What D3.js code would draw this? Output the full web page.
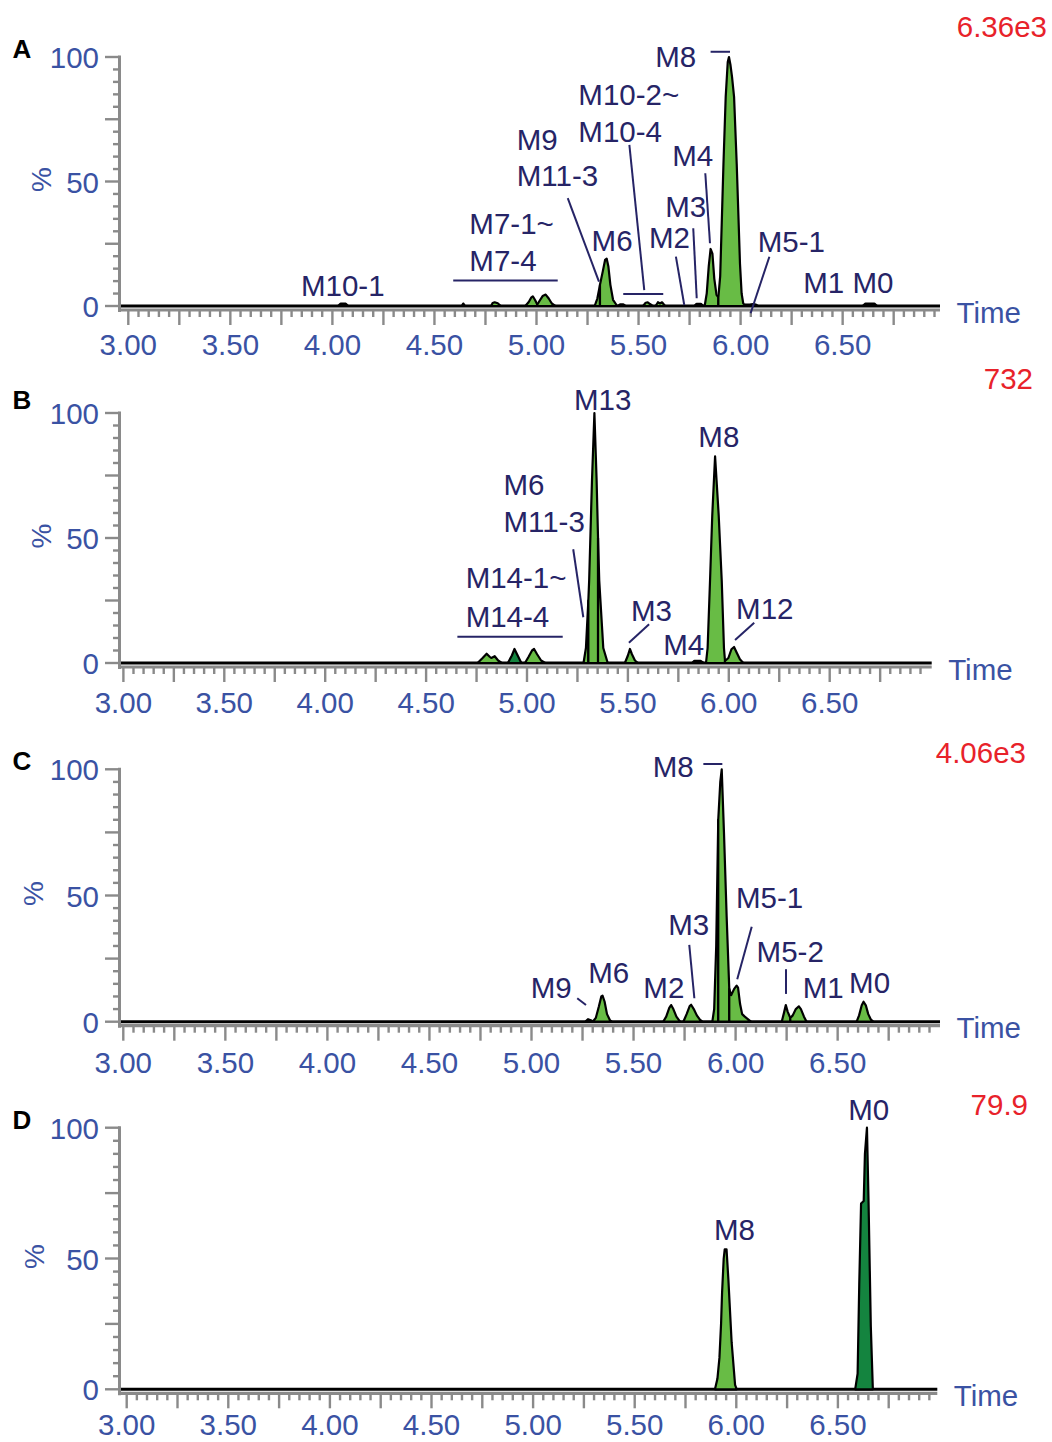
<!DOCTYPE html>
<meta charset="utf-8">
<style>
body { margin: 0; background: #fff; }
text { font-family: "Liberation Sans", Arial, sans-serif; }
</style>
<svg width="1052" height="1442"></svg>
<script src="https://d3js.org/d3.v7.min.js"></script>
<script>
// ---- data (time in min, intensity in %) ----
var xTickLabels = ["3.00", "3.50", "4.00", "4.50", "5.00", "5.50", "6.00", "6.50"];
var yTickLabels = [0, 50, 100];
var panelLetters = ["A", "B", "C", "D"];
var scaleLabels = ["6.36e3", "732", "4.06e3", "79.9"];

// integrated peaks: shade + outline points
var peaksA = [
  {shade: "light", pts: [[4.778,0],[4.785,1.2],[4.795,1.5],[4.81,1.1],[4.825,0]]},
  {shade: "light", pts: [[4.945,0],[4.962,1.6],[4.975,3.5],[4.982,3.9],[4.993,2.4],[5.004,0.6]]},
  {shade: "light", pts: [[5.004,0.6],[5.016,2.2],[5.03,4.0],[5.045,4.6],[5.06,3.0],[5.075,1.0],[5.092,0]]},
  {shade: "light", pts: [[5.285,0],[5.298,3],[5.311,8.5]]},
  {shade: "light", pts: [[5.311,8.5],[5.325,14],[5.336,18.5],[5.344,19],[5.352,16],[5.362,8.5],[5.375,2.5],[5.392,0.4]]},
  {shade: "light", pts: [[5.522,0],[5.535,1.3],[5.545,1.5],[5.556,0.8],[5.566,0.2]]},
  {shade: "light", pts: [[5.585,0.2],[5.595,1.5],[5.605,1.0],[5.615,1.5],[5.63,0]]},
  {shade: "light", pts: [[5.824,0],[5.834,5],[5.844,16],[5.853,22.9],[5.862,21],[5.871,11],[5.882,4.5],[5.891,3.5]]},
  {shade: "light", pts: [[5.891,3.5],[5.90,12],[5.91,40],[5.916,57],[5.927,84],[5.937,98],[5.943,100],[5.95,97],[5.958,92],[5.968,84],[5.981,57],[5.997,17],[6.005,5],[6.013,1],[6.02,0.5]]}
];
var blipsA = [
  [[4.03,0],[4.04,0.9],[4.065,0.9],[4.075,0]],
  [[4.635,0],[4.641,0.9],[4.648,0]],
  [[5.40,0],[5.41,0.6],[5.425,0.6],[5.435,0]],
  [[5.775,0],[5.785,0.8],[5.805,0.8],[5.816,0]],
  [[6.02,0.5],[6.045,0.5],[6.06,0.7],[6.075,0.5],[6.085,0]],
  [[6.60,0],[6.612,0.9],[6.655,0.9],[6.667,0]]
];
var labelsA = [
  {text: "M10-1", t: 3.846, p: 4.0},
  {text: "M7-1~", t: 4.671, p: 28.9},
  {text: "M7-4", t: 4.671, p: 14.2},
  {text: "M9", t: 4.903, p: 62.7},
  {text: "M11-3", t: 4.903, p: 48.3},
  {text: "M6", t: 5.270, p: 22.2},
  {text: "M10-2~", t: 5.205, p: 80.7},
  {text: "M10-4", t: 5.205, p: 66.0},
  {text: "M4", t: 5.665, p: 56.2},
  {text: "M3", t: 5.631, p: 35.6},
  {text: "M2", t: 5.551, p: 23.2},
  {text: "M8", t: 5.582, p: 96.1},
  {text: "M5-1", t: 6.084, p: 21.8},
  {text: "M1 M0", t: 6.307, p: 5.1}
];
var leadersA = [
  [[4.592,10.2],[5.104,10.2]],
  [[5.153,43.3],[5.306,9.8]],
  [[5.455,64.7],[5.528,6.4]],
  [[5.425,4.8],[5.621,4.8]],
  [[5.827,53.3],[5.850,25.2]],
  [[5.768,31.2],[5.785,3.1]],
  [[5.683,19.8],[5.724,0.4]],
  [[5.853,102.1],[5.948,102.1]],
  [[6.141,19.8],[6.049,-2.9]]
];

var peaksB = [
  {shade: "light", pts: [[4.755,0],[4.78,2],[4.80,3.7],[4.815,2.5],[4.823,2],[4.84,2.7],[4.857,1],[4.875,0]]},
  {shade: "dark", pts: [[4.905,0],[4.925,3],[4.938,5.6],[4.952,3.3],[4.972,0]]},
  {shade: "light", pts: [[4.99,0],[5.008,2.5],[5.025,5],[5.035,5.6],[5.05,3.5],[5.07,1],[5.09,0]]},
  {shade: "light", pts: [[5.28,0],[5.292,6],[5.304,25]]},
  {shade: "light", pts: [[5.304,25],[5.308,33],[5.322,73],[5.334,100],[5.345,73],[5.352,50]]},
  {shade: "light", pts: [[5.352,50],[5.358,33],[5.378,6],[5.40,0]]},
  {shade: "light", pts: [[5.485,0],[5.50,3],[5.51,5.6],[5.52,3.5],[5.535,1],[5.55,0]]},
  {shade: "light", pts: [[5.887,0],[5.895,6],[5.907,33],[5.918,59],[5.932,82.7],[5.95,59],[5.965,33],[5.976,6],[5.981,1]]},
  {shade: "light", pts: [[5.981,0.8],[5.998,2],[6.013,5.5],[6.026,6.4],[6.04,4],[6.055,1.5],[6.072,0]]}
];
var blipsB = [
  [[5.82,0],[5.83,0.8],[5.86,0.8],[5.875,0]]
];
var labelsB = [
  {text: "M13", t: 5.233, p: 101.2},
  {text: "M8", t: 5.849, p: 86.5},
  {text: "M6", t: 4.883, p: 67.2},
  {text: "M11-3", t: 4.883, p: 52.5},
  {text: "M14-1~", t: 4.696, p: 29.9},
  {text: "M14-4", t: 4.696, p: 14.5},
  {text: "M3", t: 5.515, p: 16.9},
  {text: "M4", t: 5.675, p: 3.2},
  {text: "M12", t: 6.036, p: 17.5}
];
var leadersB = [
  [[5.229,45.5],[5.279,18.3]],
  [[4.655,10.5],[5.177,10.5]],
  [[5.605,15.5],[5.505,8.1]],
  [[6.126,16.1],[6.031,9.2]]
];

var peaksC = [
  {shade: "light", pts: [[5.30,0],[5.315,1.5],[5.33,6],[5.342,10],[5.348,10.3],[5.358,8],[5.37,3],[5.385,0.5],[5.393,0]]},
  {shade: "light", pts: [[5.645,0],[5.66,2],[5.675,5.5],[5.684,6.6],[5.695,5],[5.71,2],[5.728,0]]},
  {shade: "light", pts: [[5.744,0],[5.76,3],[5.775,6.2],[5.782,6.7],[5.795,5],[5.81,2.5],[5.825,0.8],[5.837,0]]},
  {shade: "light", pts: [[5.886,0],[5.895,5],[5.905,30],[5.915,80]]},
  {shade: "light", pts: [[5.915,80],[5.925,95],[5.932,100],[5.943,75],[5.956,42],[5.969,13]]},
  {shade: "light", pts: [[5.969,13],[5.978,10.5],[5.993,13],[6.005,14.3],[6.012,13.5],[6.022,7],[6.032,3],[6.045,2],[6.06,1],[6.075,0]]},
  {shade: "light", pts: [[6.226,0],[6.237,3.5],[6.246,6.6],[6.255,4],[6.268,1.5]]},
  {shade: "light", pts: [[6.268,1.5],[6.28,2.5],[6.295,5],[6.31,6.1],[6.32,5],[6.335,2],[6.348,0]]},
  {shade: "light", pts: [[6.593,0],[6.605,2.5],[6.618,6.5],[6.627,7.9],[6.638,6.5],[6.65,3],[6.662,1],[6.675,0]]}
];
var blipsC = [
  [[5.265,0],[5.277,0.9],[5.29,0.5],[5.30,0]]
];
var labelsC = [
  {text: "M8", t: 5.594, p: 96.8},
  {text: "M5-1", t: 6.002, p: 44.9},
  {text: "M3", t: 5.670, p: 34.4},
  {text: "M5-2", t: 6.103, p: 23.8},
  {text: "M2", t: 5.548, p: 9.5},
  {text: "M6", t: 5.278, p: 15.5},
  {text: "M9", t: 4.996, p: 9.3},
  {text: "M1", t: 6.329, p: 9.3},
  {text: "M0", t: 6.556, p: 11.3}
];
var leadersC = [
  [[5.842,102.1],[5.935,102.1]],
  [[6.079,37.6],[6.008,16.8]],
  [[5.773,30.4],[5.798,9.3]],
  [[6.247,20.8],[6.247,11.0]],
  [[5.224,9.3],[5.267,6.6]]
];

var peaksD = [
  {shade: "light", pts: [[5.895,0],[5.907,4],[5.917,12],[5.925,25],[5.93,37],[5.938,50],[5.943,53.5],[5.952,53.5],[5.961,42],[5.977,18],[5.994,1.7],[6.002,0]]},
  {shade: "dark", pts: [[6.585,0],[6.597,6],[6.605,40],[6.614,71],[6.627,72],[6.633,90],[6.643,100],[6.651,71],[6.662,24],[6.672,0]]}
];
var blipsD = [];
var labelsD = [
  {text: "M8", t: 5.890, p: 57.1},
  {text: "M0", t: 6.551, p: 102.9}
];
var leadersD = [];

// ---- layout (pixels) ----
var layouts = [
  {x3: 128.3, ppm: 204.1, axisEnd: 940,   y0: 306,    y100: 57,    tickDy: 49, pctX: 41,   scaleX: 1047, scaleY: 37,   letterY: 58},
  {x3: 123.4, ppm: 201.8, axisEnd: 931.7, y0: 663,    y100: 413,   tickDy: 50, pctX: 41,   scaleX: 1033, scaleY: 389,  letterY: 409},
  {x3: 123.3, ppm: 204.1, axisEnd: 940,   y0: 1021.7, y100: 769.3, tickDy: 51, pctX: 33,   scaleX: 1026, scaleY: 763,  letterY: 770},
  {x3: 126.7, ppm: 203.2, axisEnd: 937.3, y0: 1389.3, y100: 1127.7, tickDy: 46, pctX: 33.5, scaleX: 1028, scaleY: 1115, letterY: 1129}
];
var panelPeaks = [peaksA, peaksB, peaksC, peaksD];
var panelBlips = [blipsA, blipsB, blipsC, blipsD];
var panelLabels = [labelsA, labelsB, labelsC, labelsD];
var panelLeaders = [leadersA, leadersB, leadersC, leadersD];

var axisX = 119.5;
var blue = "#3a52a3", navy = "#262466", grey = "#8a8a8a";
var shadeColour = {light: "#68bc45", dark: "#14843f"};

var svg = d3.select("svg");

layouts.forEach(function(L, i) {
  var x = d3.scaleLinear().domain([3, 7]).range([L.x3, L.x3 + 4 * L.ppm]);
  var y = d3.scaleLinear().domain([0, 100]).range([L.y0, L.y100]);
  var g = svg.append("g");

  // y axis line + ticks
  g.append("line")
    .attr("x1", axisX).attr("x2", axisX)
    .attr("y1", L.y100 - 1.5).attr("y2", L.y0 + 6)
    .attr("stroke", grey).attr("stroke-width", 3);
  g.selectAll(".yt").data(d3.range(0, 101, 5)).enter().append("line")
    .attr("x1", function(d) { return d % 25 === 0 ? 105 : 113; })
    .attr("x2", axisX)
    .attr("y1", function(d) { return y(d); })
    .attr("y2", function(d) { return y(d); })
    .attr("stroke", grey).attr("stroke-width", 2.4);
  g.selectAll(".yl").data(yTickLabels).enter().append("text")
    .attr("x", 99).attr("y", function(d) { return y(d) + 11; })
    .attr("text-anchor", "end").attr("font-size", 29.5).attr("fill", blue)
    .text(function(d) { return d; });

  // x axis line + ticks
  g.append("line")
    .attr("x1", axisX - 1.5).attr("x2", L.axisEnd)
    .attr("y1", L.y0 + 4).attr("y2", L.y0 + 4)
    .attr("stroke", grey).attr("stroke-width", 3.2);
  var tMax = x.invert(L.axisEnd - 2);
  var minor = d3.range(300, Math.floor(tMax * 100) + 1, 5).map(function(v) { return v / 100; });
  g.selectAll(".xt").data(minor).enter().append("line")
    .attr("x1", function(d) { return x(d); })
    .attr("x2", function(d) { return x(d); })
    .attr("y1", L.y0 + 5)
    .attr("y2", function(d) { return Math.round(d * 100) % 25 === 0 ? L.y0 + 19 : L.y0 + 11; })
    .attr("stroke", grey).attr("stroke-width", 2.4);
  g.selectAll(".xl").data(xTickLabels).enter().append("text")
    .attr("x", function(d) { return x(+d); })
    .attr("y", L.y0 + L.tickDy)
    .attr("text-anchor", "middle").attr("font-size", 29.5).attr("fill", blue)
    .text(function(d) { return d; });

  // axis titles
  g.append("text")
    .attr("x", L.axisEnd + 16.5).attr("y", L.y0 + 16.5)
    .attr("font-size", 29.5).attr("fill", blue).text("Time");
  g.append("text")
    .attr("transform", "translate(" + (L.pctX + 10) + "," + ((L.y0 + L.y100) / 2 - 2) + ") rotate(-90)")
    .attr("text-anchor", "middle").attr("font-size", 28).attr("fill", blue).text("%");

  // baseline of trace
  g.append("line")
    .attr("x1", axisX + 1.5).attr("x2", L.axisEnd)
    .attr("y1", L.y0).attr("y2", L.y0)
    .attr("stroke", "#000").attr("stroke-width", 3);

  var line = d3.line().x(function(d) { return x(d[0]); }).y(function(d) { return y(d[1]); });

  // peaks
  g.selectAll(".pk").data(panelPeaks[i]).enter().append("path")
    .attr("d", function(d) {
      var pts = [[d.pts[0][0], 0]].concat(d.pts, [[d.pts[d.pts.length - 1][0], 0]]);
      return line(pts) + "Z";
    })
    .attr("fill", function(d) { return shadeColour[d.shade]; })
    .attr("stroke", "#000").attr("stroke-width", 2.2)
    .attr("stroke-linejoin", "round");

  g.selectAll(".bl").data(panelBlips[i]).enter().append("path")
    .attr("d", function(d) { return line(d); })
    .attr("fill", "#000").attr("stroke", "#000").attr("stroke-width", 2.6)
    .attr("stroke-linejoin", "round");

  // annotations
  g.selectAll(".ld").data(panelLeaders[i]).enter().append("path")
    .attr("d", function(d) { return line(d); })
    .attr("stroke", navy).attr("stroke-width", 2).attr("fill", "none");
  g.selectAll(".lb").data(panelLabels[i]).enter().append("text")
    .attr("x", function(d) { return x(d.t); })
    .attr("y", function(d) { return y(d.p); })
    .attr("font-size", 29.5).attr("fill", navy)
    .text(function(d) { return d.text; });

  // panel letter and scale
  g.append("text")
    .attr("x", 12.5).attr("y", L.letterY)
    .attr("font-size", 26).attr("font-weight", "bold").attr("fill", "#000")
    .text(panelLetters[i]);
  g.append("text")
    .attr("x", L.scaleX).attr("y", L.scaleY)
    .attr("text-anchor", "end").attr("font-size", 29.5).attr("fill", "#e8222a")
    .text(scaleLabels[i]);
});
</script>
